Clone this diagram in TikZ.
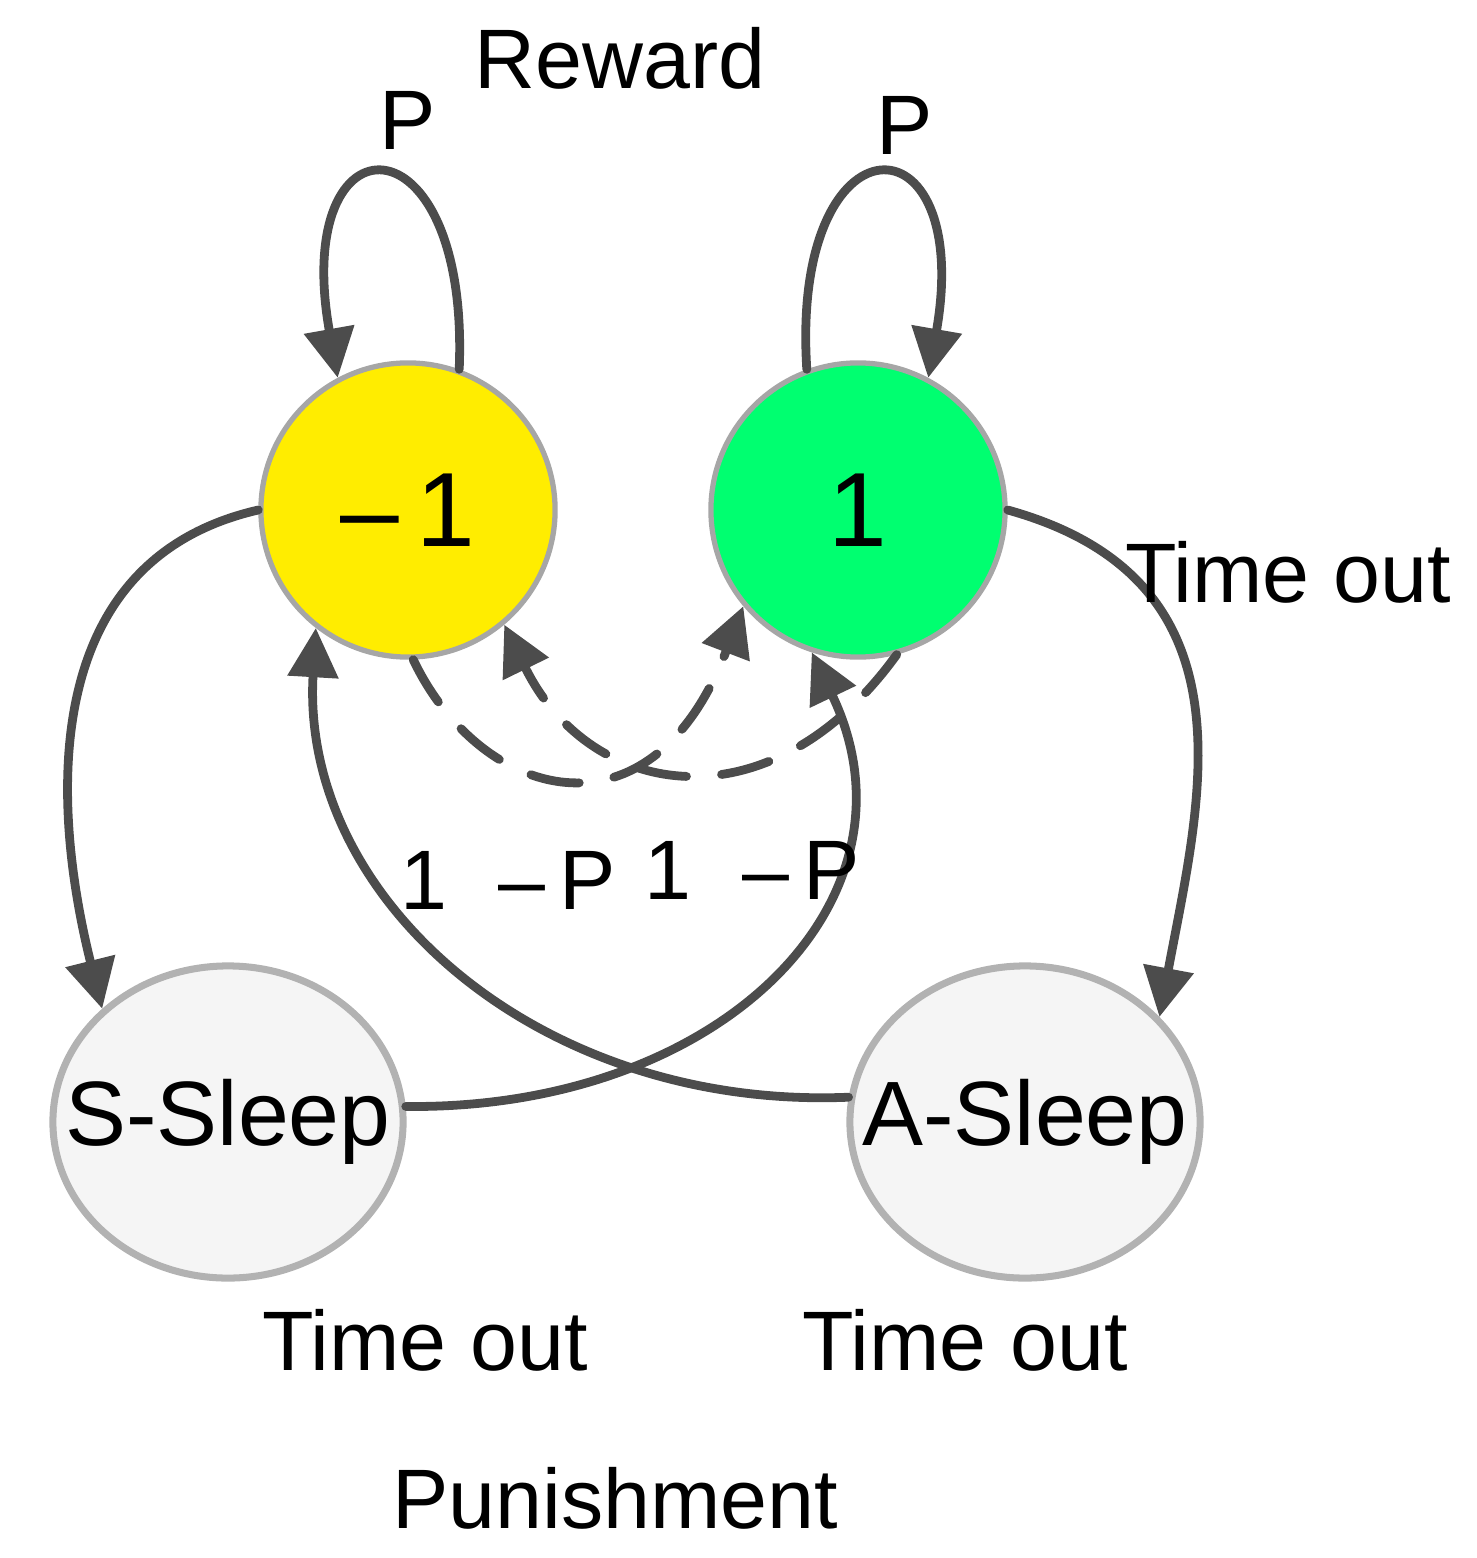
\documentclass[tikz,border=0pt]{standalone}
\usepackage{fontspec}
\setmainfont{Liberation Sans}
\usetikzlibrary{arrows.meta,shapes.geometric}
\definecolor{stateyellow}{RGB}{255,237,0}
\definecolor{stategreen}{RGB}{0,255,112}
\tikzset{
  state/.style={circle,draw=gray!70,line width=1.5pt,minimum size=2.94cm,inner sep=0pt,font=\fontsize{30}{36}\selectfont},
  sleep/.style={ellipse,draw=gray!60,fill=gray!8,line width=2pt,minimum width=3.5cm,minimum height=3.12cm,inner sep=0pt},
  edge/.style={color=black!70,line width=2.5pt,-{Triangle[length=14pt,width=14pt]}},
  lbl/.style={font=\fontsize{24}{28}\selectfont}
}
\begin{document}
\begin{tikzpicture}[line cap=round,line join=round,x=0.01cm,y=-0.01cm]
\useasboundingbox (0,0) rectangle (1476,1558);

\node[state,fill=stateyellow] (neg) at (408,510) {--\,1};
\node[state,fill=stategreen] (pos) at (858,510) {1};
\node[sleep,label={[lbl,font=\fontsize{26}{30}\selectfont]center:S-Sleep}] (ssleep) at (228,1122) {};
\node[sleep,label={[lbl,font=\fontsize{26}{30}\selectfont]center:A-Sleep}] (asleep) at (1025,1122) {};

% self loops
\draw[edge] (neg.70) .. controls (470,110) and (290,110) .. (neg.118);
\draw[edge] (pos.110) .. controls (790,110) and (975,110) .. (pos.62);

% time out edges
\draw[edge] (neg.180) .. controls (40,560) and (50,800) .. (ssleep.138);
\draw[edge] (pos.0) .. controls (1260,580) and (1200,800) .. (asleep.38);

% crossing edges
\draw[edge] (ssleep.5) .. controls (720,1110) and (930,900) .. (pos.-108);
\draw[edge] (asleep.172) .. controls (540,1110) and (300,900) .. (neg.-128);

% dashed edges
\draw[edge,dashed,dash pattern=on 14pt off 10pt] (neg.-88) .. controls (480,800) and (650,850) .. (pos.-140);
\draw[edge,dashed,dash pattern=on 14pt off 10pt] (pos.-75) .. controls (770,830) and (590,800) .. (neg.-50);

\node[lbl] (reward) at (620,58) {Reward};
\node[lbl] (p1) at (408,120) {P};
\node[lbl] (p2) at (905,125) {P};
\node[lbl] (tout1) at (1288,572) {Time out};
\node[lbl] (q1) at (508,880) {1\hspace{0.6em}--\,P};
\node[lbl] (q2) at (752,870) {1\hspace{0.6em}--\,P};
\node[lbl] (tout2) at (425,1340) {Time out};
\node[lbl] (tout3) at (965,1340) {Time out};
\node[lbl] (punish) at (615,1498) {Punishment};
\end{tikzpicture}
\end{document}
